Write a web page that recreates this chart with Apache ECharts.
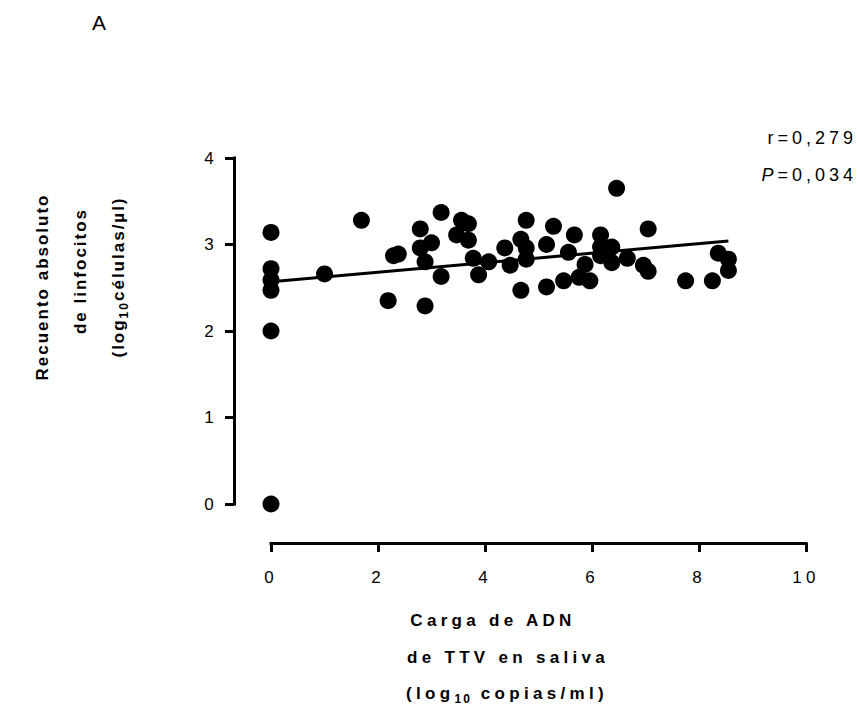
<!DOCTYPE html>
<html>
<head>
<meta charset="utf-8">
<script src="https://cdn.jsdelivr.net/npm/echarts@6/dist/echarts.min.js"></script>
<style>
  html, body { margin: 0; padding: 0; background: #fff; }
  #chart { width: 858px; height: 714px; }
  /* glyph spacing per text role, keyed on the font string of each SVG text node */
  #chart text { letter-spacing: 3px; }
  #chart text[style*="12px"] { letter-spacing: 2px; }
  #chart text[style*="17px"] { letter-spacing: 4.3px; }
  #chart text[style*="18px"] { letter-spacing: 4px; }
  #chart text[style*="21px"] { letter-spacing: 0; }
  #chart text[style*="bolder"] { letter-spacing: 2px; }
</style>
</head>
<body>
<div id="chart"></div>
<script>
const FONT = 'Liberation Sans, Arial, sans-serif';

// TTV DNA load in saliva (log10 copies/ml)
const loadX = [
  0, 0, 0, 0, 0, 0,
  1.00, 1.69, 2.19, 2.29, 2.38, 2.79, 2.79, 2.88, 2.88, 3.00,
  3.18, 3.18, 3.47, 3.56, 3.69, 3.69, 3.78, 3.88, 4.07, 4.37,
  4.47, 4.67, 4.67, 4.77, 4.77, 4.77, 5.15, 5.15, 5.28, 5.47,
  5.56, 5.67, 5.76, 5.87, 5.96, 6.16, 6.16, 6.16, 6.37, 6.37,
  6.46, 6.66, 6.96, 7.05, 7.05, 7.75, 8.25, 8.36, 8.55, 8.55
];
// Absolute lymphocyte count (log10 cells/µl)
const lymphY = [
  3.14, 2.72, 2.59, 2.47, 2.00, 0.00,
  2.66, 3.28, 2.35, 2.87, 2.89, 3.18, 2.96, 2.80, 2.29, 3.02,
  3.37, 2.63, 3.11, 3.28, 3.24, 3.05, 2.84, 2.65, 2.80, 2.96,
  2.76, 3.06, 2.47, 3.28, 2.96, 2.83, 3.00, 2.51, 3.21, 2.58,
  2.91, 3.11, 2.62, 2.77, 2.58, 3.11, 2.97, 2.87, 2.97, 2.79,
  3.65, 2.84, 2.76, 3.18, 2.69, 2.58, 2.58, 2.90, 2.83, 2.70
];
// Fitted regression line end points
const fitX = [0, 8.55];
const fitY = [2.57, 3.04];

const xTicks = { min: 0, max: 10, interval: 2 };
const yTicks = { min: 0, max: 4, interval: 1 };

const corrR = 'r=0,279';
const corrP = '0,034';

// Axis title lines (rich-text markup: s = subscript)
const xTitleLines = ['Carga de ADN', 'de TTV en saliva', '(log{s|10} copias/ml)'];
const yTitleLines = ['Recuento absoluto', 'de linfocitos', '(log{s|10}células/µl)'];

// Same spacing table as the stylesheet, so measured widths match what is drawn
function spacingFor(font) {
  if (font.indexOf('bolder') >= 0) return 2;
  if (font.indexOf('21px') >= 0) return 0;
  if (font.indexOf('18px') >= 0) return 4;
  if (font.indexOf('17px') >= 0) return 4.3;
  if (font.indexOf('12px') >= 0) return 2;
  return 3;
}
const measureCtx = document.createElement('canvas').getContext('2d');
echarts.setPlatformAPI({
  measureText(text, font) {
    font = font || ('12px ' + FONT);
    measureCtx.font = font.replace('bolder', 'bold');
    const w = measureCtx.measureText(text).width;
    return { width: w + (text ? text.length * spacingFor(font) : 0) };
  }
});

const chart = echarts.init(document.getElementById('chart'), null, { renderer: 'svg' });

const scatterData = loadX.map((x, i) => [x, lymphY[i]]);
const fitData = fitX.map((x, i) => [x, fitY[i]]);

const axisCommon = {
  type: 'value',
  axisLine: { show: true, onZero: false, lineStyle: { color: '#000', width: 3, cap: 'square' } },
  axisTick: { show: true, length: 9, lineStyle: { color: '#000', width: 3 } },
  axisLabel: { color: '#000', fontSize: 17, fontFamily: FONT },
  splitLine: { show: false }
};

function titleRich(weight) {
  return {
    t: { font: weight + ' 17px ' + FONT, color: '#000' },
    s: { font: 'bold 12px ' + FONT, color: '#000', padding: [12, 0, 0, 0] }
  };
}
// Wrap plain runs of a title line in the main rich style
function richLine(line) {
  return line.split(/(\{s\|[^}]*\})/).filter(Boolean)
    .map(p => p.startsWith('{s|') ? p : '{t|' + p + '}').join('');
}

// Title line anchors: [x, y] centre of each line
const xTitlePos = [[493, 620], [508, 657], [507, 693]];
const yTitlePos = [[42, 287], [80, 271], [118, 277]];

const titleGraphics = [];
xTitleLines.forEach((line, i) => {
  titleGraphics.push({
    type: 'text', x: xTitlePos[i][0], y: xTitlePos[i][1],
    style: { text: richLine(line), align: 'center', verticalAlign: 'middle', rich: titleRich('bold') }
  });
});
yTitleLines.forEach((line, i) => {
  titleGraphics.push({
    type: 'text', x: yTitlePos[i][0], y: yTitlePos[i][1], rotation: Math.PI / 2,
    style: { text: richLine(line), align: 'center', verticalAlign: 'middle', rich: titleRich('bolder') }
  });
});

chart.setOption({
  animation: false,
  backgroundColor: '#fff',
  grid: { left: 271, right: 52, top: 158, bottom: 210 },
  xAxis: Object.assign({}, axisCommon, xTicks, {
    offset: 39,
    axisLabel: Object.assign({}, axisCommon.axisLabel, { margin: 24 })
  }),
  yAxis: Object.assign({}, axisCommon, yTicks, {
    offset: 37,
    axisLabel: Object.assign({}, axisCommon.axisLabel, { margin: 16 })
  }),
  series: [
    {
      type: 'scatter',
      data: scatterData,
      symbolSize: 17,
      clip: false,
      itemStyle: { color: '#000', opacity: 1 },
      z: 3
    },
    {
      type: 'line',
      data: fitData,
      symbol: 'none',
      clip: false,
      lineStyle: { color: '#000', width: 3 },
      z: 2
    }
  ],
  graphic: [
    {
      type: 'text', left: 92, top: 12,
      style: { text: 'A', font: '21px ' + FONT, fill: '#000' }
    },
    {
      type: 'text', x: 857, y: 138,
      style: { text: corrR, font: '18px ' + FONT, fill: '#000', align: 'right', verticalAlign: 'middle' }
    },
    {
      type: 'text', x: 857, y: 175,
      style: {
        text: '{i|P}{n|=' + corrP + '}',
        align: 'right', verticalAlign: 'middle',
        rich: {
          i: { font: 'italic 18px ' + FONT, color: '#000' },
          n: { font: '18px ' + FONT, color: '#000' }
        }
      }
    }
  ].concat(titleGraphics)
});
</script>
</body>
</html>
